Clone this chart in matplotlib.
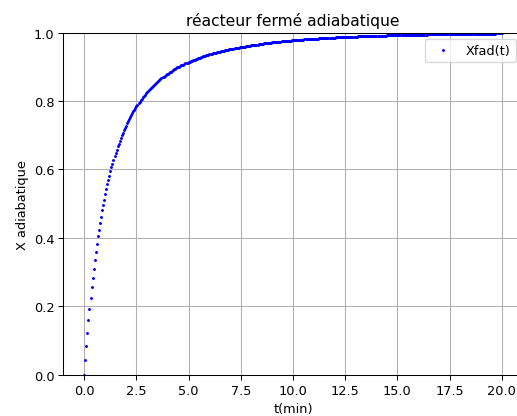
import matplotlib
matplotlib.use('Agg')
import matplotlib.pyplot as plt
import numpy as np

# temps de simulation (min), pas de 0.05 min
t_start, t_end, n_points = 0.0, 20.0, 401

# conversion adiabatique, un point tous les 0.05 min
X_ad = [
    0.000, 0.044, 0.085, 0.123, 0.159, 0.193, 0.225, 0.255, 0.283, 0.310,
    0.336, 0.360, 0.382, 0.404, 0.424, 0.444, 0.462, 0.480, 0.496, 0.512,
    0.528, 0.542, 0.556, 0.569, 0.582, 0.594, 0.606, 0.617, 0.628, 0.638,
    0.648, 0.657, 0.667, 0.675, 0.684, 0.692, 0.700, 0.707, 0.714, 0.722,
    0.728, 0.735, 0.741, 0.747, 0.753, 0.759, 0.764, 0.770, 0.775, 0.780,
    0.785, 0.789, 0.794, 0.798, 0.803, 0.807, 0.811, 0.815, 0.818, 0.822,
    0.826, 0.830, 0.833, 0.836, 0.839, 0.842, 0.845, 0.848, 0.851, 0.853,
    0.856, 0.859, 0.862, 0.864, 0.867, 0.869, 0.871, 0.874, 0.876, 0.878,
    0.880, 0.882, 0.884, 0.886, 0.888, 0.890, 0.892, 0.894, 0.896, 0.898,
    0.899, 0.900, 0.902, 0.904, 0.905, 0.906, 0.908, 0.910, 0.911, 0.912,
    0.914, 0.915, 0.916, 0.918, 0.919, 0.920, 0.921, 0.922, 0.924, 0.925,
    0.926, 0.927, 0.928, 0.929, 0.930, 0.931, 0.932, 0.933, 0.934, 0.935,
    0.936, 0.937, 0.938, 0.939, 0.939, 0.940, 0.941, 0.942, 0.943, 0.944,
    0.944, 0.945, 0.946, 0.947, 0.947, 0.948, 0.949, 0.949, 0.950, 0.951,
    0.951, 0.952, 0.953, 0.953, 0.954, 0.955, 0.955, 0.956, 0.956, 0.957,
    0.957, 0.958, 0.958, 0.959, 0.959, 0.960, 0.961, 0.961, 0.962, 0.962,
    0.963, 0.963, 0.964, 0.964, 0.964, 0.965, 0.965, 0.966, 0.966, 0.967,
    0.967, 0.967, 0.968, 0.968, 0.968, 0.969, 0.969, 0.970, 0.970, 0.970,
    0.971, 0.971, 0.971, 0.972, 0.972, 0.972, 0.973, 0.973, 0.973, 0.974,
    0.974, 0.974, 0.975, 0.975, 0.975, 0.975, 0.976, 0.976, 0.976, 0.977,
    0.977, 0.977, 0.977, 0.978, 0.978, 0.978, 0.978, 0.979, 0.979, 0.979,
    0.979, 0.980, 0.980, 0.980, 0.980, 0.981, 0.981, 0.981, 0.981, 0.981,
    0.982, 0.982, 0.982, 0.982, 0.982, 0.983, 0.983, 0.983, 0.983, 0.983,
    0.984, 0.984, 0.984, 0.984, 0.984, 0.985, 0.985, 0.985, 0.985, 0.985,
    0.985, 0.986, 0.986, 0.986, 0.986, 0.986, 0.986, 0.987, 0.987, 0.987,
    0.987, 0.987, 0.987, 0.987, 0.988, 0.988, 0.988, 0.988, 0.988, 0.988,
    0.988, 0.988, 0.989, 0.989, 0.989, 0.989, 0.989, 0.989, 0.989, 0.989,
    0.990, 0.990, 0.990, 0.990, 0.990, 0.990, 0.990, 0.990, 0.990, 0.990,
    0.991, 0.991, 0.991, 0.991, 0.991, 0.991, 0.991, 0.991, 0.991, 0.991,
    0.992, 0.992, 0.992, 0.992, 0.992, 0.992, 0.992, 0.992, 0.992, 0.992,
    0.992, 0.993, 0.993, 0.993, 0.993, 0.993, 0.993, 0.993, 0.993, 0.993,
    0.993, 0.993, 0.993, 0.993, 0.994, 0.994, 0.994, 0.994, 0.994, 0.994,
    0.994, 0.994, 0.994, 0.994, 0.994, 0.994, 0.994, 0.994, 0.994, 0.995,
    0.995, 0.995, 0.995, 0.995, 0.995, 0.995, 0.995, 0.995, 0.995, 0.995,
    0.995, 0.995, 0.995, 0.995, 0.995, 0.995, 0.995, 0.995, 0.995, 0.995,
    0.996, 0.996, 0.996, 0.996, 0.996, 0.996, 0.996, 0.996, 0.996, 0.996,
    0.996, 0.996, 0.996, 0.996, 0.996, 0.996, 0.996, 0.996, 0.996, 0.996,
    0.997, 0.997, 0.997, 0.997, 0.997, 0.997, 0.997, 0.997, 0.997, 0.997,
    0.997, 0.997, 0.997, 0.997, 0.997, 0.997, 0.997, 0.997, 0.997, 0.997,
    0.997, 0.997, 0.997, 0.997, 0.997, 0.998, 0.998, 0.998, 0.998, 0.998,
    0.998,
]

t = np.linspace(t_start, t_end, n_points)

fig = plt.figure(figsize=(517 / 93, 417 / 93), dpi=93)
ax = fig.add_axes([0.1226, 0.099, 0.8882, 0.8206])

ax.plot(t, X_ad, 'b.', markersize=2.5, label='Xfad(t)')

ax.set_ylim(0, 1)
ax.set_title('réacteur fermé adiabatique')
ax.set_xlabel('t(min)')
ax.set_ylabel('X adiabatique')
ax.grid(True)
ax.legend(loc='upper right')

fig.savefig('out.png', dpi=93)
